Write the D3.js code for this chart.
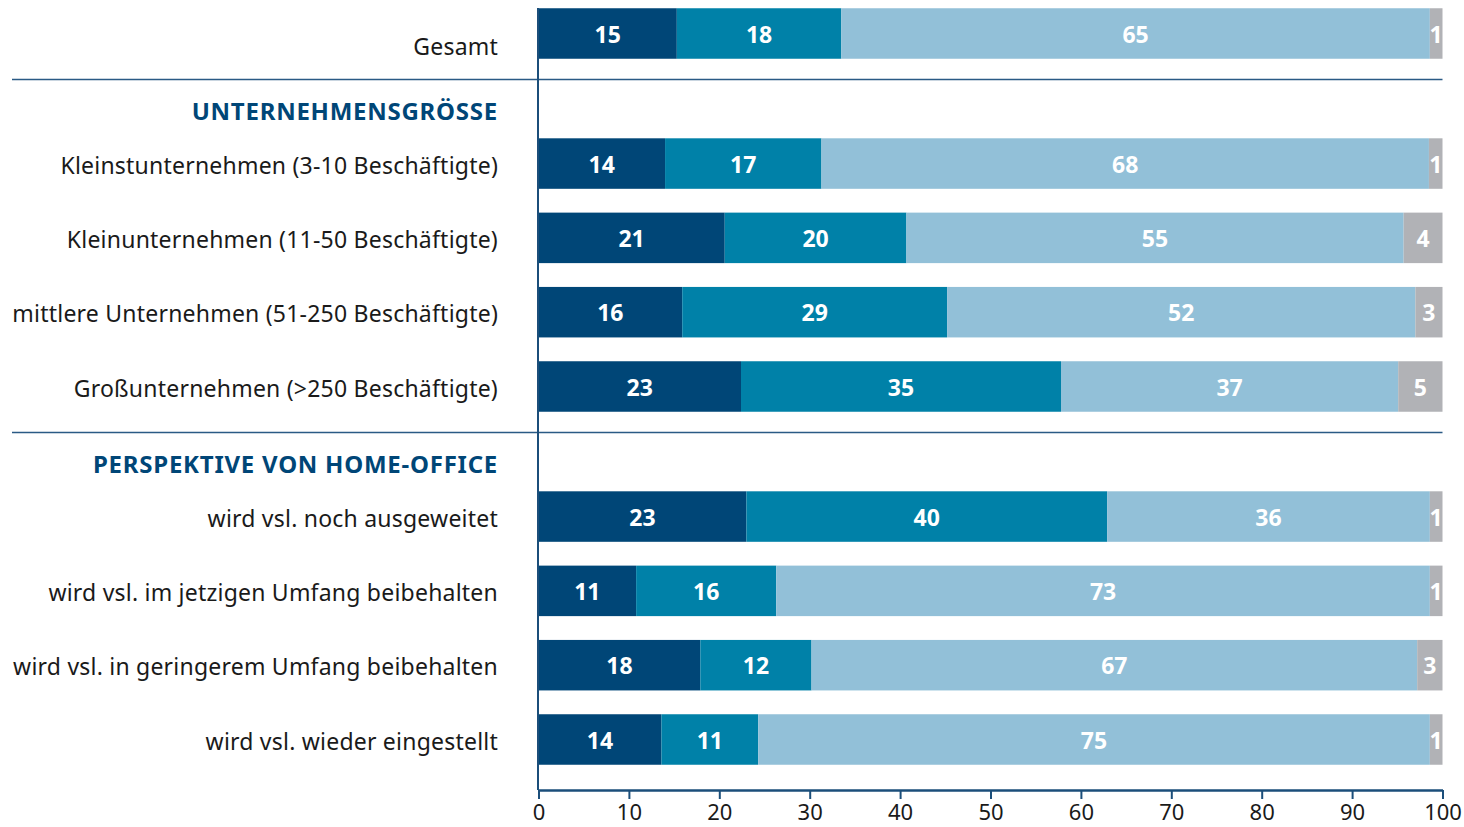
<!DOCTYPE html>
<html><head><meta charset="utf-8">
<script src="https://cdn.jsdelivr.net/npm/d3@7"></script>
<style>
html,body{margin:0;padding:0;background:#fff;}
svg{display:block;font-family:"Noto Sans",sans-serif;}
</style></head><body>
<svg id="c" width="1464" height="827"></svg>
<script>
const categories = [
  "Gesamt",
  "Kleinstunternehmen (3-10 Beschäftigte)",
  "Kleinunternehmen (11-50 Beschäftigte)",
  "mittlere Unternehmen (51-250 Beschäftigte)",
  "Großunternehmen (>250 Beschäftigte)",
  "wird vsl. noch ausgeweitet",
  "wird vsl. im jetzigen Umfang beibehalten",
  "wird vsl. in geringerem Umfang beibehalten",
  "wird vsl. wieder eingestellt"
];
const groupOf = [0, 1, 1, 1, 1, 2, 2, 2, 2];
const groupHeadings = ["", "UNTERNEHMENSGRÖSSE", "PERSPEKTIVE VON HOME-OFFICE"];
// segment widths (bar lengths in %)
const series1 = [15.3, 14.0, 20.6, 15.9, 22.4, 23.0, 10.8, 17.9, 13.6];
const series2 = [18.2, 17.3, 20.1, 29.3, 35.4, 39.9, 15.5, 12.3, 10.7];
const series3 = [65.1, 67.2, 55.0, 51.8, 37.3, 35.7, 72.3, 67.0, 74.3];
const series4 = [1.4, 1.5, 4.3, 3.0, 4.9, 1.4, 1.4, 2.8, 1.4];
// printed labels
const labels1 = [15, 14, 21, 16, 23, 23, 11, 18, 14];
const labels2 = [18, 17, 20, 29, 35, 40, 16, 12, 11];
const labels3 = [65, 68, 55, 52, 37, 36, 73, 67, 75];
const labels4 = [1, 1, 4, 3, 5, 1, 1, 3, 1];
const xTicks = [0, 10, 20, 30, 40, 50, 60, 70, 80, 90, 100];
const colors = ["#004677", "#0081a8", "#92c0d8", "#b1b2b6"];

const svg = d3.select("#c");
const x = d3.scaleLinear().domain([0, 100]).range([538.5, 1442.5]);
// slot index with extra gap before each group
const slot = categories.map((c, i) => i + groupOf[i] * 0.75);
const y = d3.scaleLinear().domain([0, 9.5]).range([33.5, 739.5]);
const barH = 50.5;

const seriesVals = [series1, series2, series3, series4];
const seriesLabs = [labels1, labels2, labels3, labels4];

categories.forEach((cat, i) => {
  let acc = 0;
  const cy = y(slot[i]);
  seriesVals.forEach((s, k) => {
    const v = s[i];
    const x0 = x(acc), x1 = x(acc + v);
    svg.append("rect")
      .attr("x", x0).attr("y", cy - barH / 2)
      .attr("width", x1 - x0).attr("height", barH)
      .attr("fill", colors[k]);
    svg.append("text")
      .attr("x", (x0 + x1) / 2).attr("y", cy + 3)
      .attr("text-anchor", "middle").attr("dominant-baseline", "middle")
      .attr("fill", "#fff").attr("font-weight", "bold").attr("font-size", 23)
      .text(seriesLabs[k][i]);
    acc += v;
  });
  const isFirst = i === 0;
  svg.append("text")
    .attr("x", 498).attr("y", isFirst ? cy + 15 : cy + 4)
    .attr("text-anchor", "end").attr("dominant-baseline", "middle")
    .attr("fill", "#1a1a1a").attr("font-size", 23).attr("letter-spacing", 0.22)
    .text(cat);
});

// group headings and separators
[1, 2].forEach(g => {
  const first = groupOf.indexOf(g);
  const gy = y(slot[first]);
  svg.append("line")
    .attr("x1", 12).attr("x2", 1442.5)
    .attr("y1", gy - 84).attr("y2", gy - 84)
    .attr("stroke", "#2a5a85").attr("stroke-width", 1.5);
  svg.append("text")
    .attr("x", 498).attr("y", gy - 50)
    .attr("text-anchor", "end").attr("dominant-baseline", "middle")
    .attr("fill", "#004677").attr("font-weight", "bold").attr("font-size", 24)
    .attr("letter-spacing", 0.75)
    .text(groupHeadings[g]);
});

// vertical baseline
svg.append("line")
  .attr("x1", x(0) - 0.5).attr("x2", x(0) - 0.5)
  .attr("y1", 8).attr("y2", 790)
  .attr("stroke", "#1b4e7a").attr("stroke-width", 2);

// x axis
const axis = svg.append("g").attr("transform", "translate(0,790)")
  .call(d3.axisBottom(x).tickValues(xTicks).tickSize(9).tickSizeOuter(0).tickPadding(5));
axis.select(".domain").attr("stroke", "#1b4e7a").attr("stroke-width", 2.5);
axis.selectAll(".tick line").attr("stroke", "#1b4e7a").attr("stroke-width", 2);
axis.selectAll(".tick text").attr("font-size", 22).attr("fill", "#1a1a1a")
  .attr("font-family", "'Noto Sans',sans-serif");
</script>
</body></html>
